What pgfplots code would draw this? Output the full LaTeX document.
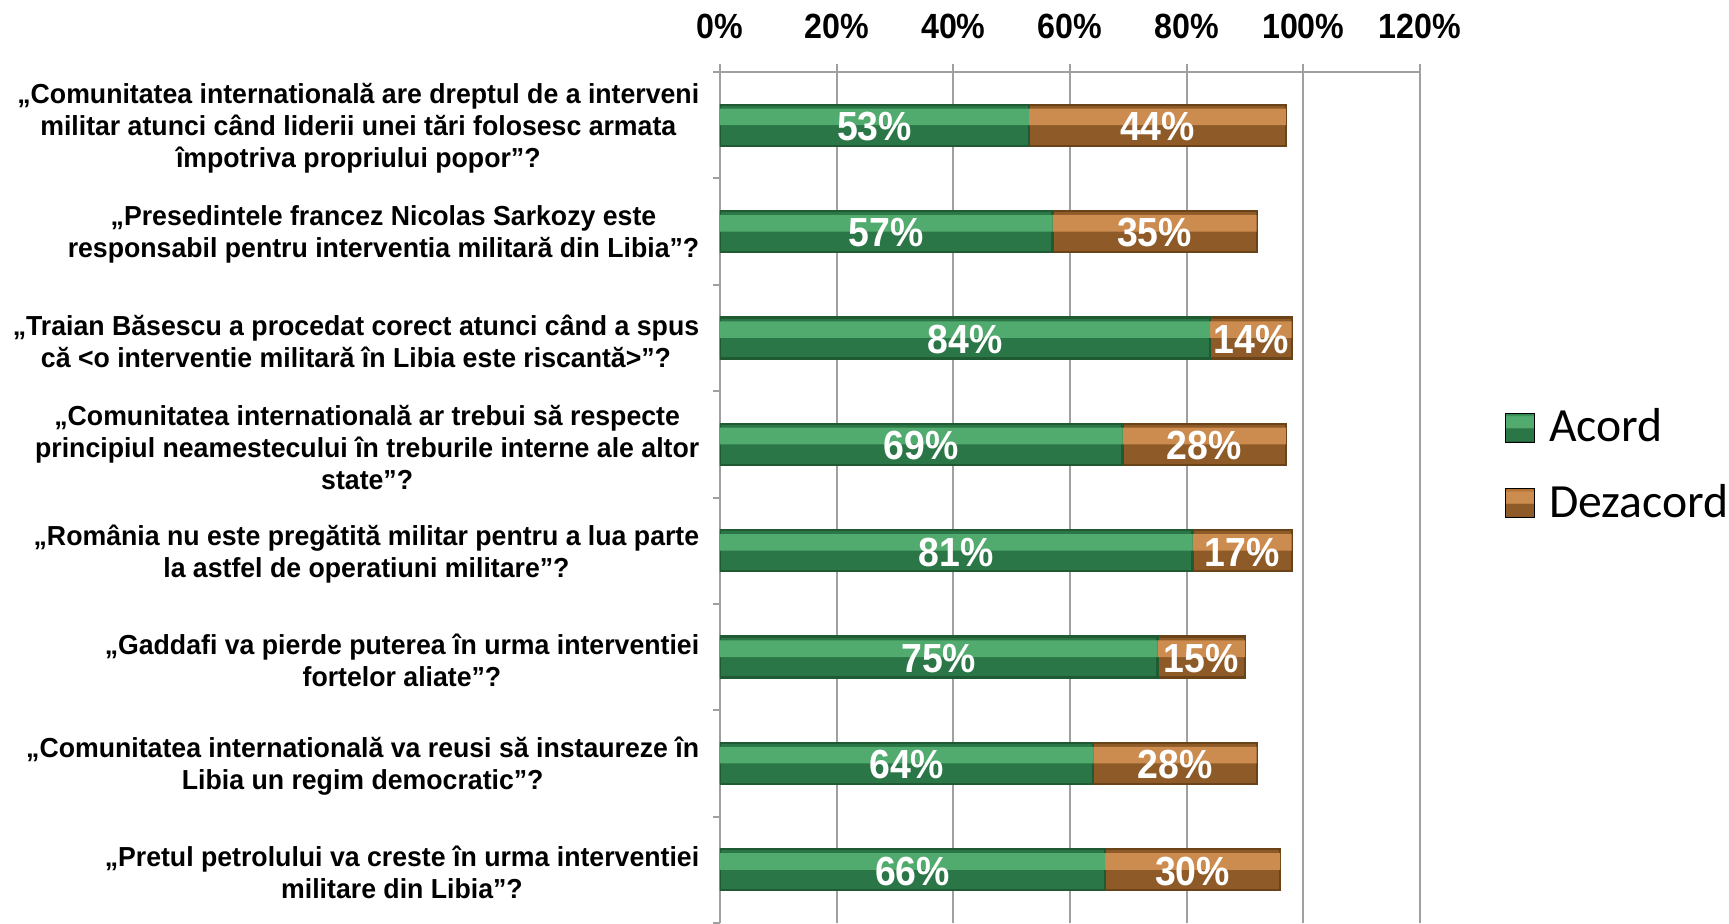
\documentclass[border=0pt]{standalone}
\usepackage{pgfplots}
\pgfplotsset{compat=1.18}
\usepackage{pgfplotstable}
\usepackage{fontspec}
\setmainfont{Liberation Sans}
\newfontfamily\labfont[FakeStretch=0.97]{Liberation Sans}
\newfontfamily\numfont[FakeStretch=0.92]{Liberation Sans}
\newfontfamily\legfont{Carlito}

\definecolor{gB}{HTML}{1F5A32}
\definecolor{gL}{HTML}{2B7646}
\definecolor{gU}{HTML}{52AB6E}
\definecolor{gT}{HTML}{2F8A50}
\definecolor{oB}{HTML}{6B4319}
\definecolor{oL}{HTML}{8E5B28}
\definecolor{oU}{HTML}{CD8C4F}
\definecolor{oT}{HTML}{B2722F}
\definecolor{gridgray}{HTML}{A0A0A0}

% bevelled look of the legend squares
\pgfdeclareverticalshading{greenbevel}{100bp}{color(0bp)=(gB); color(27bp)=(gB);
  color(28bp)=(gL); color(50bp)=(gL); color(50.5bp)=(gU); color(71bp)=(gU);
  color(72bp)=(gT); color(100bp)=(gT)}
\pgfdeclareverticalshading{orangebevel}{100bp}{color(0bp)=(oB); color(27bp)=(oB);
  color(28bp)=(oL); color(50bp)=(oL); color(50.5bp)=(oU); color(71bp)=(oU);
  color(72bp)=(oT); color(100bp)=(oT)}

% category 1 = bottom of the chart
\pgfplotstableread{
y acord dezacord
1 66 30
2 64 28
3 75 15
4 81 17
5 69 28
6 84 14
7 57 35
8 53 44
}\data

\pgfplotsset{
  frame/.style={
    scale only axis,
    width=210pt, height=255.3pt,
    xbar stacked,
    xmin=0, xmax=120,
    ymin=0.5, ymax=8.5,
  },
}

\begin{document}
\begin{tikzpicture}
% base axis: grid, ticks, labels, full bars in the darker tone
\begin{axis}[
    frame,
    bar width=12.3pt,
    axis x line=top,
    axis y line=left,
    axis line style={draw=gridgray, line width=0.6pt, -},
    xmajorgrids,
    grid style={draw=gridgray, line width=0.6pt},
    tick align=outside,
    major tick length=2.4pt,
    minor tick length=2pt,
    major x tick style={draw=gridgray, line width=0.6pt},
    major y tick style={draw=none},
    minor y tick style={draw=gridgray, line width=0.6pt},
    xtick={0,20,...,120},
    xticklabel={\pgfmathprintnumber{\tick}\%},
    /pgf/number format/assume math mode=true,
    xticklabel style={font=\fontsize{10.5}{12}\selectfont\numfont\bfseries, yshift=4pt},
    ytick={1,...,8},
    minor ytick={0.5,1.5,...,8.5},
    yticklabels={
      {„Pretul petrolului va creste în urma interventiei\\militare din Libia”?},
      {„Comunitatea internatională va reusi să instaureze în\\Libia un regim democratic”?},
      {„Gaddafi va pierde puterea în urma interventiei\\fortelor aliate”?},
      {„România nu este pregătită militar pentru a lua parte\\la astfel de operatiuni militare”?},
      {„Comunitatea internatională ar trebui să respecte\\principiul neamestecului în treburile interne ale altor\\state”?},
      {„Traian Băsescu a procedat corect atunci când a spus\\că <o interventie militară în Libia este riscantă>”?},
      {„Presedintele francez Nicolas Sarkozy este\\responsabil pentru interventia militară din Libia”?},
      {„Comunitatea internatională are dreptul de a interveni\\militar atunci când liderii unei tări folosesc armata\\împotriva propriului popor”?}
    },
    yticklabel style={font=\fontsize{8.25}{9.6}\selectfont\labfont\bfseries, align=center,
        xshift=-0.3pt, yshift=-0.9pt},
    legend style={draw=none, fill=none, at={(axis description cs:1.12,0.5376)},
        anchor=west, inner sep=0pt, row sep=7.2pt,
        nodes={inner xsep=4.2pt},
        font=\fontsize{14.3}{16}\selectfont\legfont},
    legend cell align=left,
]
\addplot[forget plot, fill=gL, draw=gB, line width=0.7pt]
  table[x=acord, y=y] {\data};
\addplot[forget plot, fill=oL, draw=oB, line width=0.7pt]
  table[x=dezacord, y=y] {\data};
\addlegendimage{legend image code/.code={\path[shading=greenbevel] (0pt,-4.35pt) rectangle (8.7pt,4.35pt);}}
\addlegendimage{legend image code/.code={\path[shading=orangebevel] (0pt,-4.35pt) rectangle (8.7pt,4.35pt);}}
\legend{Acord, Dezacord}
\end{axis}
% light upper half of the bars
\begin{axis}[frame, hide axis, bar width=5pt, bar shift=2.5pt]
\addplot[fill=gU, draw=none] table[x=acord, y=y] {\data};
\addplot[fill=oU, draw=none] table[x=dezacord, y=y] {\data};
\end{axis}
% value labels
\begin{axis}[frame, hide axis, bar width=12.3pt,
    /pgf/number format/assume math mode=true,
    visualization depends on={rawx \as \rawx},
    nodes near coords={\pgfmathprintnumber{\rawx}\%},
    every node near coord/.append style={anchor=center, yshift=-0.4pt,
        font=\fontsize{12.2}{14}\selectfont\numfont\bfseries, text=white}]
\addplot[draw=none, fill=none] table[x=acord, y=y] {\data};
\addplot[draw=none, fill=none] table[x=dezacord, y=y] {\data};
\end{axis}
\pgfresetboundingbox
\path[use as bounding box] (-216pt,0) rectangle (302.7pt,276.9pt);
\end{tikzpicture}
\end{document}
